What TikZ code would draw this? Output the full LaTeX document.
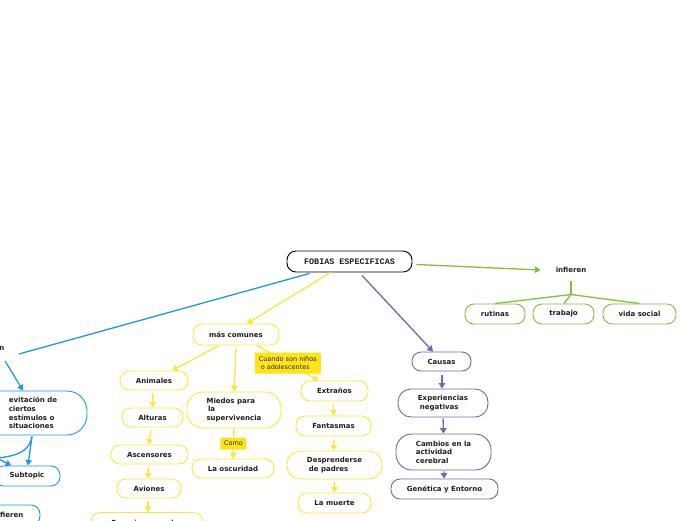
\documentclass[tikz,border=0pt]{standalone}
\usepackage{fontspec}
\setmainfont{DejaVu Sans}
\newfontfamily\monof{Liberation Mono}
\usetikzlibrary{arrows.meta}
\definecolor{cblue}{RGB}{30,152,225}
\definecolor{cyel}{RGB}{255,228,60}
\definecolor{cyfill}{RGB}{255,228,20}
\definecolor{cpur}{RGB}{122,98,172}
\definecolor{cgrn}{RGB}{132,190,62}
\definecolor{ctxt}{RGB}{30,30,30}
\begin{document}
\begin{tikzpicture}[x=1pt,y=-1pt,
  every node/.style={text=ctxt, font=\fontsize{7}{8.6}\selectfont\bfseries, inner sep=0pt},
  bx/.style={draw, rounded corners=9pt, line width=0.9pt, fill=white, minimum height=20pt},
  rootbox/.style={bx, draw=black, line width=0.9pt},
  ybox/.style={bx, draw=cyel},
  pbox/.style={bx, draw=cpur},
  gbox/.style={bx, draw=cgrn},
  bbox/.style={bx, draw=cblue},
  tip/.style={-{Triangle[width=6.5pt,length=5.5pt]}},
  yarr/.style={draw=cyel, line width=1.3pt, tip},
  parr/.style={draw=cpur, line width=1.3pt, tip},
  garr/.style={draw=cgrn, line width=1.3pt, tip},
  gline/.style={draw=cgrn, line width=1.3pt},
  barr/.style={draw=cblue, line width=1.3pt, tip},
  bline/.style={draw=cblue, line width=1.3pt},
  ylab/.style={fill=cyfill, rounded corners=1pt, font=\fontsize{6.5}{8.6}\selectfont, text=ctxt!85!yellow!60!black},
]
\useasboundingbox (0,0) rectangle (696,520);
\fill[white] (0,0) rectangle (696,520);

% root
\node[rootbox, minimum width=125pt, minimum height=21pt] (root) at (349.5,261.5)
  {\monof\fontsize{8.4}{10}\selectfont\bfseries FOBIAS ESPECIFICAS};

% green branch
\node (inf) at (571,270) {infieren};
\node[gbox, minimum width=60pt] (rut) at (495,314) {rutinas};
\node[gbox, minimum width=61pt] (trab) at (563.5,314) {trabajo};
\node[gbox, minimum width=73pt] (vida) at (639.5,314) {vida social};
\coordinate (gj) at (571,294.5);
\draw[garr] ([xshift=4pt,yshift=-3pt]root.east) -- ([xshift=-15pt]inf.west);
\draw[gline] ([yshift=-8pt]inf.south) -- (gj);
\draw[gline] (gj) -- (rut.north);
\draw[gline] (gj) -- ([xshift=0.5pt]trab.north);
\draw[gline] (gj) -- (vida.north);

% yellow branch
\node[ybox, minimum width=86pt, minimum height=21pt] (mas) at (236,334.5) {más comunes};
\node[ybox, minimum width=68pt, minimum height=19pt] (anim) at (154,380.5) {Animales};
\node[ybox, minimum width=61pt, minimum height=19pt] (alt) at (152.5,417.5) {Alturas};
\node[ybox, minimum width=77pt, minimum height=19pt] (asc) at (149.5,454.5) {Ascensores};
\node[ybox, minimum width=64pt, minimum height=19pt] (avi) at (149,488.5) {Aviones};
\node[ybox, minimum width=112pt, minimum height=22pt] (esp) at (147,523.5) {Espacios cerrados};
\node[ybox, minimum width=94pt, minimum height=36pt, rounded corners=16pt, align=left] (mied) at (234,410)
  {Miedos para\\\hspace{1.5pt}la\\supervivencia};
\node[ybox, minimum width=82pt, minimum height=19pt] (osc) at (233,468.5) {La oscuridad};
\node[ybox, minimum width=67pt] (extr) at (334.5,391) {Extraños};
\node[ybox, minimum width=75pt] (fant) at (333.5,426) {Fantasmas};
\node[ybox, minimum width=95pt, minimum height=28pt, rounded corners=13pt, align=left] (desp) at (334.5,465)
  {Desprenderse\\\hspace{2pt}de padres};
\node[ybox, minimum width=73pt] (muer) at (334.5,503) {La muerte};

\draw[yarr] ([xshift=-19pt]root.south) -- ([xshift=11pt]mas.north);
\draw[yarr] ([xshift=-17pt]mas.south) -- ([xshift=18pt]anim.north);
\draw[yarr] ([yshift=-3pt]mas.south) -- (mied.north);
\draw[yarr] ([xshift=21pt]mas.south) -- node[ylab, align=left, minimum width=66pt, minimum height=21pt]
  {Cuando son niños\\\hspace{2pt}o adolescentes} ([xshift=-16pt]extr.north);
\draw[yarr, shorten <=3pt] ([xshift=-1pt]anim.south) -- (alt.north);
\draw[yarr, shorten <=3pt] ([xshift=-1pt]alt.south) -- ([xshift=-1pt]asc.north);
\draw[yarr, shorten <=3pt] ([xshift=-1pt]asc.south) -- ([xshift=-1pt]avi.north);
\draw[yarr, shorten <=3pt] ([xshift=-1pt]avi.south) -- ([xshift=1pt]esp.north);
\draw[yarr] (mied) -- node[ylab, minimum width=26pt, minimum height=12pt] {Como} (osc);
\draw[yarr, shorten <=3pt] ([xshift=-1pt]extr.south) -- (fant.north);
\draw[yarr, shorten <=3pt] ([xshift=1pt]fant.south) -- ([xshift=-1pt]desp.north);
\draw[yarr, shorten <=3pt] (desp.south) -- (muer.north);

% purple branch
\node[pbox, minimum width=59pt, minimum height=19pt] (caus) at (441.5,361.5) {Causas};
\node[pbox, minimum width=90pt, minimum height=28pt, rounded corners=13pt, align=left] (exper) at (443,403)
  {Experiencias\\\hspace{2pt}negativas};
\node[pbox, minimum width=95pt, minimum height=36pt, rounded corners=16pt, align=left] (camb) at (443.5,452)
  {Cambios en la\\actividad\\cerebral};
\node[pbox, minimum width=107pt] (gen) at (444.5,489) {Genética y Entorno};
\draw[parr] ([xshift=12.5pt,yshift=-3pt]root.south) -- ([xshift=-8.5pt]caus.north);
\draw[parr, shorten <=4pt] ([xshift=0.5pt]caus.south) -- ([xshift=-1pt]exper.north);
\draw[parr, shorten <=1pt] (exper.south) -- (camb.north);
\draw[parr, shorten <=1pt] (camb.south) -- (gen.north);

% blue branch
\node[anchor=east] (prov) at (4.5,349) {provocan};
\node[bbox, minimum width=108pt, minimum height=44pt, rounded corners=20pt, align=left] (evit) at (33,413)
  {evitación de\\ciertos\\estímulos o\\situaciones};
\node[bbox, minimum width=66pt] (sub) at (27,476) {Subtopic};
\node[bbox, minimum width=64pt] (infb) at (8,515) {Infieren};
\coordinate (offA) at (-25,462);
\coordinate (offB) at (-25,446);
\draw[bline] ([xshift=-40pt,yshift=-1pt]root.south) -- ([xshift=14.5pt,yshift=-5pt]prov.east);
\draw[barr] ([xshift=0.5pt,yshift=-9pt]prov.south east) -- ([xshift=-10pt]evit.north);
\draw[barr] ([xshift=-1pt,yshift=-1pt]evit.south) -- ([xshift=1pt]sub.north);
\draw[bline] ([xshift=-1pt,yshift=-1pt]evit.south) to[out=-100,in=15] (offA);
\draw[barr] (offB) -- ([xshift=-16pt]sub.north);
\end{tikzpicture}
\end{document}
